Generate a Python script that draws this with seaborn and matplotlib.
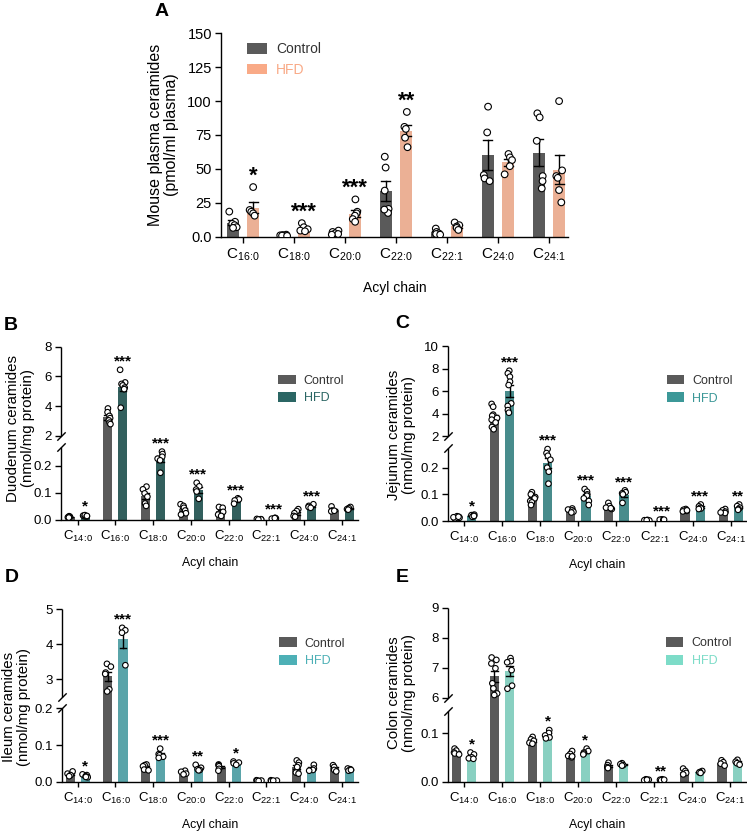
import warnings

import numpy as np
import pandas as pd
import matplotlib
matplotlib.use('Agg')
import matplotlib.pyplot as plt
from matplotlib.patches import Patch
from matplotlib.ticker import NullLocator
import seaborn as sns

warnings.filterwarnings('ignore')
np.random.seed(7)  # only for the horizontal jitter of the dots

GROUPS = ['Control', 'HFD']
CONTROL_COLOR = '#5a5a5a'

# A: plasma (pmol/ml)
A_CHAINS = ['16:0', '18:0', '20:0', '22:0', '22:1', '24:0', '24:1']
A_CONTROL = [
    [18.5, 11.0, 9.5, 8.5, 7.0, 6.5],
    [1.5, 1.2, 1.0, 0.8, 0.6],
    [4.5, 3.5, 2.5, 2.0, 1.5],
    [59.0, 51.0, 34.0, 20.5, 17.5, 20.0],
    [6.0, 3.5, 2.5, 2.0, 1.5],
    [95.9, 76.9, 45.5, 43.0, 41.0],
    [91.0, 88.0, 70.7, 44.7, 41.0, 35.6],
]
A_HFD = [
    [36.6, 19.7, 18.4, 17.2, 15.5],
    [10.0, 7.0, 5.5, 4.5, 4.0],
    [27.5, 18.4, 17.2, 15.5, 13.0, 11.0],
    [92.0, 81.0, 79.5, 73.0, 66.0],
    [10.5, 8.5, 7.5, 6.5, 5.0],
    [61.0, 58.5, 56.5, 52.0, 46.0],
    [100.0, 48.9, 44.7, 43.4, 34.4, 25.3],
]
A_STARS = ['*', '***', '***', '**', '', '', '']
A_YTICKS = [0, 25, 50, 75, 100, 125, 150]

# B-E: intestine (nmol/mg protein)
GUT_CHAINS = ['14:0', '16:0', '18:0', '20:0', '22:0', '22:1', '24:0', '24:1']

B_CONTROL = [
    [0.012, 0.010, 0.014, 0.011, 0.009],
    [3.85, 3.6, 3.35, 3.2, 3.05, 2.9, 2.8],
    [0.123, 0.113, 0.098, 0.086, 0.061, 0.052],
    [0.058, 0.052, 0.045, 0.035, 0.025, 0.020],
    [0.048, 0.045, 0.030, 0.020, 0.015],
    [0.003, 0.002, 0.004, 0.002],
    [0.040, 0.033, 0.025, 0.015, 0.012],
    [0.050, 0.035, 0.032, 0.034],
]
B_HFD = [
    [0.016, 0.014, 0.018, 0.013, 0.015],
    [6.45, 5.6, 5.5, 5.4, 5.25, 5.15, 3.9],
    [0.252, 0.243, 0.233, 0.226, 0.220, 0.174],
    [0.137, 0.124, 0.112, 0.105, 0.078],
    [0.080, 0.076, 0.072, 0.060],
    [0.008, 0.006, 0.005, 0.007],
    [0.058, 0.052, 0.048, 0.045],
    [0.048, 0.044, 0.040, 0.038],
]
B_STARS = ['*', '***', '***', '***', '***', '***', '***', '']
B_YTICKS = [0, 0.1, 0.2, 2, 4, 6, 8]

C_CONTROL = [
    [0.018, 0.015, 0.012, 0.010, 0.014, 0.016],
    [4.85, 4.6, 3.9, 3.8, 3.6, 3.45, 3.2, 2.8, 2.6],
    [0.108, 0.100, 0.090, 0.085, 0.075, 0.070, 0.060],
    [0.047, 0.043, 0.040, 0.035, 0.032],
    [0.068, 0.056, 0.050, 0.045, 0.048],
    [0.004, 0.003, 0.002, 0.003],
    [0.045, 0.042, 0.038, 0.036, 0.040],
    [0.045, 0.040, 0.035, 0.030, 0.032],
]
C_HFD = [
    [0.024, 0.022, 0.020, 0.018, 0.016, 0.019],
    [7.8, 7.57, 7.27, 6.83, 6.53, 4.9, 4.67, 4.3, 4.07],
    [0.270, 0.255, 0.245, 0.230, 0.200, 0.185, 0.140],
    [0.120, 0.110, 0.100, 0.095, 0.085, 0.075, 0.060],
    [0.115, 0.108, 0.104, 0.100, 0.068],
    [0.006, 0.005, 0.004, 0.005],
    [0.062, 0.055, 0.050, 0.047, 0.045],
    [0.062, 0.056, 0.050, 0.045, 0.042],
]
C_STARS = ['*', '***', '***', '***', '***', '***', '***', '**']
C_YTICKS = [0, 0.1, 0.2, 2, 4, 6, 8, 10]

D_CONTROL = [
    [0.028, 0.022, 0.018, 0.015],
    [3.44, 3.36, 3.19, 3.15, 2.71, 2.65],
    [0.047, 0.045, 0.042, 0.033, 0.031],
    [0.030, 0.027, 0.022, 0.020],
    [0.047, 0.045, 0.042, 0.035, 0.030],
    [0.004, 0.003, 0.002, 0.003, 0.002],
    [0.058, 0.052, 0.045, 0.040, 0.025, 0.022],
    [0.045, 0.040, 0.032, 0.028],
]
D_HFD = [
    [0.020, 0.018, 0.015, 0.012, 0.013],
    [4.47, 4.40, 4.33, 3.40],
    [0.090, 0.075, 0.072, 0.068, 0.065],
    [0.046, 0.038, 0.034, 0.032, 0.031],
    [0.055, 0.052, 0.050, 0.046],
    [0.004, 0.003, 0.002, 0.003],
    [0.046, 0.036, 0.032, 0.030],
    [0.036, 0.034, 0.030, 0.032],
]
D_STARS = ['*', '***', '***', '**', '*', '', '', '']
D_YTICKS = [0, 0.1, 0.2, 3, 4, 5]

E_CONTROL = [
    [0.068, 0.064, 0.060, 0.058, 0.056],
    [7.34, 7.26, 7.14, 6.98, 6.48, 6.31, 6.14, 6.09],
    [0.092, 0.087, 0.084, 0.080, 0.078],
    [0.063, 0.057, 0.053, 0.050, 0.052],
    [0.039, 0.034, 0.030, 0.028],
    [0.005, 0.004, 0.003, 0.004],
    [0.027, 0.022, 0.018, 0.015],
    [0.044, 0.040, 0.037, 0.033],
]
E_HFD = [
    [0.060, 0.056, 0.050, 0.048, 0.047],
    [7.32, 7.22, 7.18, 6.92, 6.40, 6.30],
    [0.106, 0.100, 0.095, 0.091, 0.089],
    [0.068, 0.063, 0.060, 0.058, 0.056],
    [0.038, 0.036, 0.034, 0.033],
    [0.005, 0.004, 0.003, 0.004],
    [0.022, 0.020, 0.019, 0.018],
    [0.045, 0.041, 0.038, 0.035],
]
E_STARS = ['*', '', '*', '*', '', '**', '', '']
E_YTICKS = [0, 0.1, 6, 7, 8, 9]

W, H = 747, 832


def long_table(chains, control, hfd):
    rows = []
    for chain, c_vals, h_vals in zip(chains, control, hfd):
        rows += [(chain, 'Control', v) for v in c_vals]
        rows += [(chain, 'HFD', v) for v in h_vals]
    return pd.DataFrame(rows, columns=['chain', 'group', 'value'])


def px_rect(left, right, bottom, top):
    return [left / W, 1 - bottom / H, (right - left) / W, (bottom - top) / H]


def broken_scale(vals, px):
    # piecewise linear y scale: lower and upper segment, squeezed gap between
    lo_slope = px[1] / vals[1]
    hi_slope = (px[-1] - px[-2]) / (vals[-1] - vals[-2])
    v = [-1.0] + list(vals) + [vals[-1] * 10]
    p = [-lo_slope] + list(px) + [px[-1] + hi_slope * vals[-1] * 9]

    def fwd(y):
        return np.interp(y, v, p)

    def inv(y):
        return np.interp(y, p, v)
    return fwd, inv


def chain_label(c):
    a, b = c.split(':')
    return r'C$_{%s\!:\!%s}$' % (a, b)


def draw_panel(fig, rect, chains, control, hfd, stars, color, yticks, ylabel,
               xlim, ylab_x, ylab_y, leg_xy, big=False, brk=None):
    ax = fig.add_axes(rect)
    df = long_table(chains, control, hfd)
    ymax = yticks[-1]
    if brk is not None:
        ax.set_yscale('function', functions=broken_scale(*brk))

    tick_fs = 10.5 if big else 9.5
    pt_size = 4.8 if big else 4.0

    sns.barplot(data=df, x='chain', y='value', hue='group', order=chains,
                hue_order=GROUPS, palette={'Control': CONTROL_COLOR, 'HFD': color},
                errorbar='se', capsize=0.35, width=0.8, gap=0.4,
                err_kws={'color': 'black', 'linewidth': 1.0},
                linewidth=0, legend=False, ax=ax)
    sns.stripplot(data=df, x='chain', y='value', hue='group', order=chains,
                  hue_order=GROUPS, palette={'Control': 'white', 'HFD': 'white'},
                  dodge=True, jitter=0.16, size=pt_size, edgecolor='black',
                  linewidth=0.8, legend=False, ax=ax)

    # significance stars over the HFD bars
    star_fs = 16 if big else 11
    for i, (s, vals) in enumerate(zip(stars, hfd)):
        if s:
            ax.annotate(s, xy=(i + 0.2, max(vals)),
                        xytext=(0, 4 if big else 3),
                        textcoords='offset points', ha='center', va='baseline',
                        fontsize=star_fs, fontweight='bold')

    ax.set_xlim(*xlim)
    ax.set_ylim(0, ymax)
    ax.set_yticks(yticks)
    ax.set_yticklabels([f'{t:.1f}' if t < 1 else f'{t:g}' for t in yticks])
    ax.yaxis.set_minor_locator(NullLocator())
    ax.set_xticks(range(len(chains)))
    ax.set_xticklabels([chain_label(c) for c in chains],
                       fontsize=11 if big else 9.5)

    sns.despine(ax=ax)
    for sp in ['left', 'bottom']:
        ax.spines[sp].set_linewidth(1.0)
    ax.tick_params(axis='y', length=4.3, width=1.0, pad=2.2, labelsize=tick_fs)
    ax.tick_params(axis='x', length=4.5 if big else 3.8, width=1.0, pad=2.5)

    if brk is not None:
        lo_top, up_bot = brk[0][1], brk[0][2]
        ax.spines['left'].set_visible(False)
        tr = ax.get_yaxis_transform()
        ax.plot([0, 0], [0, lo_top], color='black', lw=1.0, transform=tr,
                clip_on=False, solid_capstyle='butt')
        ax.plot([0, 0], [up_bot, ymax], color='black', lw=1.0, transform=tr,
                clip_on=False, solid_capstyle='butt')
        ax.plot([0, 0], [lo_top, up_bot], linestyle='none', marker=[(-1, -1), (1, 1)],
                markersize=6, mew=1.0, color='black', transform=tr, clip_on=False)

    ax.set_ylabel(ylabel, fontsize=11.5 if big else 10.8, linespacing=1.05)
    ax.yaxis.label.set_va('center')
    ax.yaxis.set_label_coords(ylab_x, ylab_y)
    ax.set_xlabel('Acyl chain', fontsize=10 if big else 8.8, va='center')
    ax.xaxis.set_label_coords(0.5, -0.25)

    handles = [Patch(facecolor=CONTROL_COLOR, edgecolor='none'),
               Patch(facecolor=color, edgecolor='none')]
    ax.legend(handles, GROUPS, loc='center left', bbox_to_anchor=leg_xy,
              frameon=False, borderpad=0, borderaxespad=0,
              handlelength=1.45 if big else 1.4, handleheight=0.8,
              handletextpad=0.65, labelspacing=0.45,
              fontsize=10 if big else 9, labelcolor=['#333333', color])
    return ax


plt.rcParams['font.family'] = ['Liberation Sans', 'DejaVu Sans']
plt.rcParams['mathtext.fontset'] = 'custom'
plt.rcParams['mathtext.rm'] = 'Liberation Sans'
plt.rcParams['mathtext.it'] = 'Liberation Sans:italic'
plt.rcParams['mathtext.bf'] = 'Liberation Sans:bold'

fig = plt.figure(figsize=(W / 100, H / 100), dpi=100)

draw_panel(fig, px_rect(221, 568, 236.7, 33.3), A_CHAINS, A_CONTROL, A_HFD,
           A_STARS, '#f9aa87', A_YTICKS,
           'Mouse plasma ceramides\n(pmol/ml plasma)', (-0.43, 6.37),
           -0.165, 0.5, (0.075, 0.871), big=True)

draw_panel(fig, px_rect(61, 358.3, 520, 346.7), GUT_CHAINS, B_CONTROL, B_HFD,
           B_STARS, '#2b6664', B_YTICKS,
           'Duodenum ceramides\n(nmol/mg protein)', (-0.44, 7.44),
           -0.136, 0.53, (0.73, 0.753),
           brk=([0, 0.27, 2, 8], [0, 73.3, 84, 173.3]))

draw_panel(fig, px_rect(447.7, 746.7, 521, 346), GUT_CHAINS, C_CONTROL, C_HFD,
           C_STARS, '#3c9898', C_YTICKS,
           'Jejunum ceramides\n(nmol/mg protein)', (-0.43, 7.42),
           -0.155, 0.49, (0.733, 0.751),
           brk=([0, 0.274, 2, 10], [0, 73, 85, 175]))

draw_panel(fig, px_rect(62.3, 358, 781.7, 609.3), GUT_CHAINS, D_CONTROL, D_HFD,
           D_STARS, '#4db0b6', D_YTICKS,
           'Ileum ceramides\n(nmol/mg protein)', (-0.41, 7.43),
           -0.155, 0.435, (0.733, 0.75),
           brk=([0, 0.2, 2.5, 5], [0, 73.4, 85, 172.4]))

draw_panel(fig, px_rect(447.7, 746.7, 781.7, 607.7), GUT_CHAINS, E_CONTROL, E_HFD,
           E_STARS, '#7ddcc8', E_YTICKS,
           'Colon ceramides\n(nmol/mg protein)', (-0.43, 7.45),
           -0.155, 0.51, (0.73, 0.744),
           brk=([0, 0.145, 6, 9], [0, 70.6, 84, 174]))

for letter, x, y in [('A', 161.5, 11), ('B', 11, 325), ('C', 402, 323),
                     ('D', 12, 578), ('E', 402, 578)]:
    fig.text(x / W, 1 - y / H, letter, ha='center', va='center',
             fontsize=14, fontweight='bold')

fig.savefig('out.png', dpi=100)
